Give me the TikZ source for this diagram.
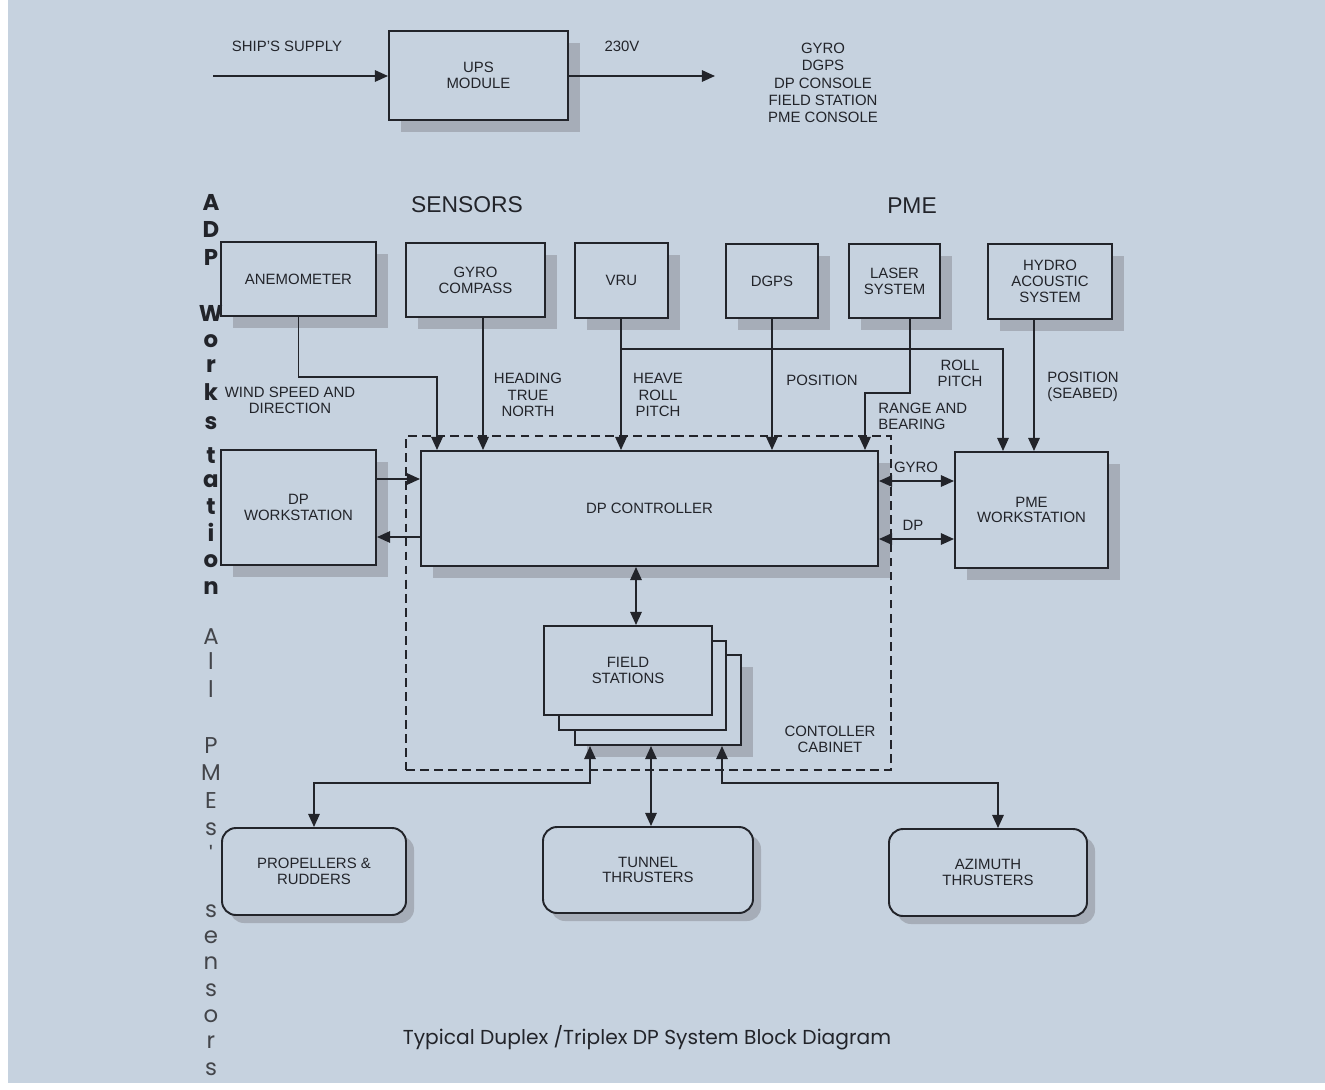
\documentclass[tikz,border=0pt]{standalone}
\usepackage{fontspec}
\setmainfont{Liberation Sans}
\newfontfamily\geofont{Poppins}
\usetikzlibrary{arrows.meta,shadows,fit}

\definecolor{paper}{RGB}{198,210,223}
\definecolor{ink}{RGB}{34,36,42}
\definecolor{shade}{RGB}{163,170,180}

\begin{document}
\begin{tikzpicture}[x=0.02cm,y=-0.02cm,
  font=\fontsize{8.5}{9}\selectfont,
  every node/.style={text=ink},
  base/.style={draw=ink, line width=1.1pt, fill=paper, inner sep=0pt, align=center},
  blk/.style={base, drop shadow={shadow xshift=0.23cm, shadow yshift=-0.23cm, fill=shade, opacity=0.9}},
  rblk/.style={base, rounded corners=0.28cm, drop shadow={shadow xshift=0.16cm, shadow yshift=-0.16cm, fill=shade, opacity=0.9}},
  conn/.style={draw=ink, line width=1.1pt},
  arr/.style={conn, -{Triangle[length=7.5pt,width=6.5pt]}},
  darr/.style={conn, {Triangle[length=7.5pt,width=6.5pt]}-{Triangle[length=7.5pt,width=6.5pt]}},
  lbl/.style={align=center, inner sep=0pt},
  head/.style={inner sep=0pt, font=\fontsize{13}{15}\selectfont},
]
% background
\fill[paper] (0,0) rectangle (1325,1089);
\fill[white] (0,0) rectangle (8,1089);
\fill[white] (0,1083) rectangle (1325,1089);

% ---- UPS section ----
\node[blk, fit={(389,31) (568,120)}] (ups) {};
\node[lbl] at (ups.center) {UPS\\MODULE};
\coordinate (supin) at (213,76);
\coordinate (supout) at (715,76);
\draw[arr] (supin) -- (supin -| ups.west);
\draw[arr] (supout -| ups.east) -- (supout);
\node[lbl] (shipsup) at (287,46) {SHIP'S SUPPLY};
\node[lbl] (v230) at (622,46) {230V};
\node[lbl, font=\fontsize{8.5}{9.9}\selectfont] (upslist) at (823,83) {GYRO\\DGPS\\DP CONSOLE\\FIELD STATION\\PME CONSOLE};

% ---- headings ----
\node[head] (hsens) at (467,205) {SENSORS};
\node[head] (hpme) at (912,206) {PME};

% ---- controller cabinet ----
\node[draw=ink, line width=1.2pt, dash pattern=on 5pt off 3pt, fit={(406,436) (891,770)}, inner sep=0pt] (cab) {};
\node[lbl] (cablbl) at (830,739) {CONTOLLER\\CABINET};

% ---- sensor boxes ----
\node[blk, fit={(221,242) (376,316)}] (anem) {};
\node[lbl] at (anem.center) {ANEMOMETER};
\node[blk, fit={(406,243) (545,317)}] (gyro) {};
\node[lbl] at (gyro.center) {GYRO\\COMPASS};
\node[blk, fit={(575,243) (668,318)}] (vru) {};
\node[lbl] at (vru.center) {VRU};
\node[blk, fit={(726,244) (818,318)}] (dgps) {};
\node[lbl] at (dgps.center) {DGPS};
\node[blk, fit={(849,244) (940,318)}] (laser) {};
\node[lbl] at (laser.center) {LASER\\SYSTEM};
\node[blk, fit={(988,244) (1112,319)}] (hydro) {};
\node[lbl] at (hydro.center) {HYDRO\\ACOUSTIC\\SYSTEM};

% ---- middle row ----
\node[blk, fit={(221,450) (376,565)}] (dpws) {};
\node[lbl] at (dpws.center) {DP\\WORKSTATION};
\node[blk, fit={(421,451) (878,566)}] (dpc) {};
\node[lbl] at (dpc.center) {DP CONTROLLER};
\node[blk, fit={(955,452) (1108,568)}] (pmews) {};
\node[lbl] at (pmews.center) {PME\\WORKSTATION};

% ---- field stations ----
\node[blk, fit={(575,655) (741,745)}] (fs3) {};
\node[base, fit={(559,641) (726,730)}] (fs2) {};
\node[base, fit={(544,626) (712,715)}] (fs1) {};
\node[lbl] at (fs1.center) {FIELD\\STATIONS};

% ---- thrusters ----
\node[rblk, fit={(222,828) (406,915)}] (prop) {};
\node[lbl] at (prop.center) {PROPELLERS \&\\RUDDERS};
\node[rblk, fit={(543,827) (753,913)}] (tunnel) {};
\node[lbl] at (tunnel.center) {TUNNEL\\THRUSTERS};
\node[rblk, fit={(889,829) (1087,916)}] (azi) {};
\node[lbl] at (azi.center) {AZIMUTH\\THRUSTERS};

% ---- sensor connectors ----
\coordinate (xw) at (437,377);
\draw[arr] (anem.south) |- (xw) -- (xw |- dpc.north);
\coordinate (xg) at (483,0);
\draw[arr] (xg |- gyro.south) -- (xg |- dpc.north);
\coordinate (xv) at (621,0);
\coordinate (vbr) at (1003,349);
\draw[arr] (xv |- vru.south) -- (xv |- dpc.north);
\draw[arr] (xv |- vbr) -- (vbr) -- (vbr |- pmews.north);
\coordinate (xd) at (772,0);
\draw[arr] (xd |- dgps.south) -- (xd |- dpc.north);
\coordinate (xl) at (910,393);
\coordinate (xl2) at (865,393);
\draw[arr] (xl |- laser.south) -- (xl) -- (xl2) -- (xl2 |- dpc.north);
\coordinate (xh) at (1034,0);
\draw[arr] (xh |- hydro.south) -- (xh |- pmews.north);

% ---- labels on connectors ----
\node[lbl] (lwind) at (290,400) {WIND SPEED AND\\DIRECTION};
\node[lbl, font=\fontsize{8.5}{9.2}\selectfont] (lhead) at (528,395) {HEADING\\TRUE\\NORTH};
\node[lbl, font=\fontsize{8.5}{9.2}\selectfont] (lheave) at (658,395) {HEAVE\\ROLL\\PITCH};
\node[lbl] (lpos) at (822,380) {POSITION};
\node[lbl] (lroll) at (960,373) {ROLL\\PITCH};
\node[lbl, align=left, anchor=west] (lrange) at (878,416) {RANGE AND\\BEARING};
\node[lbl, align=left, anchor=west] (lposs) at (1047,387) {POSITION\\(SEABED)};

% ---- DP workstation <-> controller ----
\coordinate (y1) at (0,479);
\coordinate (y2) at (0,537);
\draw[arr] (dpws.east |- y1) -- (dpc.west |- y1);
\draw[arr] (dpc.west |- y2) -- (dpws.east |- y2);

% ---- controller <-> PME workstation ----
\coordinate (y3) at (0,481);
\coordinate (y4) at (0,539);
\draw[darr] (dpc.east |- y3) -- (pmews.west |- y3);
\draw[darr] (dpc.east |- y4) -- (pmews.west |- y4);
\node[lbl] (lgyro) at (916,467) {GYRO};
\node[lbl] (ldp) at (913,525) {DP};

% ---- controller <-> field stations ----
\coordinate (xf) at (636,0);
\draw[darr] (xf |- dpc.south) -- (xf |- fs1.north);

% ---- field stations <-> thrusters ----
\coordinate (hb) at (0,783);
\coordinate (xa) at (590,0);
\coordinate (xt) at (651,0);
\coordinate (xz) at (722,0);
\coordinate (xzb) at (998,0);
\draw[darr] (xa |- fs3.south) -- (xa |- hb) -| (prop.north);
\draw[darr] (xt |- fs3.south) -- (xt |- tunnel.north);
\draw[darr] (xz |- fs3.south) -- (xz |- hb) -- (xzb |- hb) -- (xzb |- azi.north);

% ---- vertical text ----
\foreach \ch/\yy in {A/202, D/229, P/257, W/313, o/341, r/366, k/392, s/423, t/456, a/481, t/507, i/532, o/561, n/588}
  \node[inner sep=0pt, font=\geofont\bfseries\fontsize{13}{13}\selectfont] at (211,\yy) {\ch};
\foreach \ch/\yy in {A/637, l/661, l/689, P/746, M/773, E/801, s/829, '/854, s/911, e/937, n/963, s/990, o/1016, r/1042, s/1069}
  \node[inner sep=0pt, text=ink!85, font=\geofont\fontsize{13}{13}\selectfont] at (211,\yy) {\ch};

% ---- caption ----
\node[inner sep=0pt, font=\geofont\fontsize{11.5}{13}\selectfont] (caption) at (647,1038) {Typical Duplex /Triplex DP System Block Diagram};
\end{tikzpicture}
\end{document}
